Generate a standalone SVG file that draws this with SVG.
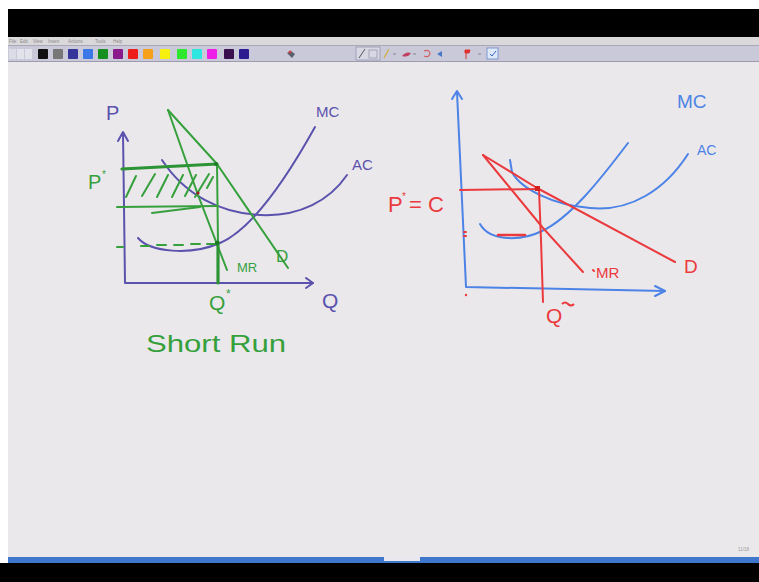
<svg xmlns="http://www.w3.org/2000/svg" width="759" height="582" viewBox="0 0 759 582">
<style>
.pen{fill:none;stroke-linecap:round;stroke-linejoin:round}
.pu{stroke:#5a52ad;stroke-width:2}
.gr{stroke:#35a03c;stroke-width:2}
.grk{stroke:#2c9434;stroke-width:3.2}
.rd{stroke:#ea3a3e;stroke-width:2}
.bl{stroke:#4c83e6;stroke-width:2}
.lbl{font-family:"Liberation Sans",Arial,sans-serif}
.sw{stroke:#9a9aaa;stroke-width:0.5}
</style>
<rect x="0" y="0" width="759" height="582" fill="#ffffff"/>
<rect x="8" y="9" width="751" height="28" fill="#000000"/>
<rect x="8" y="37" width="751" height="8" fill="#dad8da"/>
<rect x="8" y="45" width="751" height="17" fill="#c9c9da"/>
<line x1="8" y1="45.5" x2="759" y2="45.5" stroke="#a8a8b8" stroke-width="1"/>
<line x1="8" y1="61.5" x2="759" y2="61.5" stroke="#9c9cae" stroke-width="1"/>
<rect x="8" y="62" width="751" height="495" fill="#ebe8eb"/>
<rect x="8" y="557" width="751" height="6" fill="#3f77cc"/>
<rect x="384" y="556" width="36" height="5" fill="#e8e8ee"/>
<rect x="0" y="563" width="759" height="19" fill="#000000"/>
<text x="738" y="551" class="lbl" font-size="4.5" fill="#9a9a9a">11/18</text>
<g id="menu" class="lbl" font-size="4.5" fill="#8a8a8a">
<text x="9" y="43">File</text><text x="20" y="43">Edit</text><text x="33" y="43">View</text><text x="48" y="43">Insert</text><text x="68" y="43">Actions</text><text x="95" y="43">Tools</text><text x="113" y="43">Help</text>
</g>
<g id="palette">
<rect x="9" y="49" width="7" height="10" fill="#dcdce6"/>
<rect x="17" y="49" width="7" height="10" fill="#e2e2ea"/>
<rect x="25" y="49" width="7" height="10" fill="#e2e2ea"/>
<rect x="38" y="49" width="10" height="10" rx="1" fill="#111111"/>
<rect x="53" y="49" width="10" height="10" rx="1" fill="#777777"/>
<rect x="68" y="49" width="10" height="10" rx="1" fill="#34349a"/>
<rect x="83" y="49" width="10" height="10" rx="1" fill="#3a78e8"/>
<rect x="98" y="49" width="10" height="10" rx="1" fill="#15901e"/>
<rect x="113" y="49" width="10" height="10" rx="1" fill="#8a1a8c"/>
<rect x="128" y="49" width="10" height="10" rx="1" fill="#ee1c1c"/>
<rect x="143" y="49" width="10" height="10" rx="1" fill="#f5a018"/>
<rect x="160" y="49" width="10" height="10" rx="1" fill="#f5f010"/>
<rect x="177" y="49" width="10" height="10" rx="1" fill="#2ee82e"/>
<rect x="192" y="49" width="10" height="10" rx="1" fill="#2ee6e0"/>
<rect x="207" y="49" width="10" height="10" rx="1" fill="#ee1ee8"/>
<rect x="224" y="49" width="10" height="10" rx="1" fill="#3a1050"/>
<rect x="239" y="49" width="10" height="10" rx="1" fill="#2c1a90"/>
<path d="M287,53 l4,-2 l4,3 l-3,4 z" fill="#556070"/>
<circle cx="290" cy="52" r="1.5" fill="#d04040"/>
</g>
<g id="tools">
<rect x="356" y="47" width="24" height="13" fill="#d8d8e4" stroke="#8e8ea6" stroke-width="0.7"/>
<line x1="359" y1="58" x2="365" y2="49" stroke="#555" stroke-width="1"/>
<rect x="369" y="50" width="8" height="8" fill="none" stroke="#8e8ea6" stroke-width="0.7"/>
<line x1="384" y1="58" x2="389" y2="49" stroke="#d0b040" stroke-width="1.3"/>
<line x1="393" y1="54" x2="396" y2="54" stroke="#777" stroke-width="0.8"/>
<path d="M402,56 q4,-5 9,-3 q-3,5 -9,3z" fill="#c04060"/>
<line x1="413" y1="54" x2="416" y2="54" stroke="#777" stroke-width="0.8"/>
<path d="M424,51 q6,-2 6,3 q-2,4 -6,2" fill="none" stroke="#d06060" stroke-width="1.2"/>
<path d="M437,54 l5,-3 v6z" fill="#4a78c8"/>
<path d="M465,50 h5 l-1,3 h-4 z M466,53 v6" fill="#e03030" stroke="#e03030" stroke-width="1"/>
<line x1="478" y1="54" x2="481" y2="54" stroke="#777" stroke-width="0.8"/>
<rect x="487" y="48" width="11" height="11" fill="#dde8f8" stroke="#6a8ac8" stroke-width="0.8"/>
<path d="M490,54 l2,2 l4,-5" fill="none" stroke="#3a66b8" stroke-width="1"/>
</g>

<g id="left-graph">
<g id="left-axes" class="pen pu">
<path d="M123,133 L124,206 L125,283 L313,283"/>
<path d="M118,141 L123,132 L128,141"/>
<path d="M306,278 L313,283 L306,288"/>
</g>
<g id="left-curves" class="pen pu">
<path d="M138,238 C150,252 190,256 220,243 C255,228 290,172 315,127"/>
<path d="M162,160 C185,195 220,213 260,215 C300,217 330,200 347,175"/>
</g>
<g id="left-lines" class="pen">
<path class="gr" d="M168,110 L217,164 L288,268"/>
<path class="gr" d="M168,110 L198,195 L227,270"/>
<path class="grk" d="M122,169 L217,164"/>
<path class="gr" d="M117,207 L217,206" stroke-width="2.6"/>
<path class="gr" d="M152,213 L200,207"/>
<path class="gr" d="M217,164 L218,243"/>
<path class="grk" d="M218,242 L218,283"/>
<path class="gr" d="M117,247 L123,247 M141,246 L149,246 M157,245 L166,245 M174,245 L183,245 M191,244 L200,244 M207,244 L216,244"/>
<path class="gr" d="M126,197 L136,176 M142,196 L155,174 M157,197 L168,175 M172,197 L183,175 M185,196 L196,175 M195,197 L209,174 M207,188 L213,177"/>
<circle cx="217" cy="243" r="2.2" fill="#1f7a28"/>
<circle cx="216" cy="164" r="2" fill="#1f7a28"/>
<circle cx="198" cy="193" r="1.6" fill="#a02020"/>
</g>
<g id="left-labels" class="lbl">
<text x="106" y="120" font-size="20" fill="#5a52ad">P</text>
<text x="316" y="117" font-size="15" fill="#5a52ad">MC</text>
<text x="352" y="170" font-size="15" fill="#5a52ad">AC</text>
<text x="322" y="308" font-size="21" fill="#5a52ad">Q</text>
<text x="88" y="189" font-size="20" fill="#35a03c">P</text>
<text x="102" y="178" font-size="10" fill="#35a03c">*</text>
<text x="237" y="272" font-size="13" fill="#35a03c">MR</text>
<text x="276" y="262" font-size="17" fill="#35a03c">D</text>
<text x="209" y="310" font-size="21" fill="#35a03c">Q</text>
<text x="226" y="298" font-size="12" fill="#35a03c">*</text>
<text x="146" y="352" font-size="24" fill="#35a03c" textLength="140" lengthAdjust="spacingAndGlyphs">Short Run</text>
</g>
</g>

<g id="right-graph">
<g id="right-axes" class="pen bl">
<path d="M457,92 L462,200 L466,287 L665,291"/>
<path d="M452,99 L457,91 L462,99"/>
<path d="M655,286 L665,291 L655,296"/>
</g>
<g id="right-curves" class="pen bl">
<path d="M480,224 C490,242 522,241 542,231 C570,218 600,180 628,143"/>
<path d="M510,160 L512,172 C520,188 552,205 590,208 C630,212 665,190 688,154"/>
</g>
<g id="right-lines" class="pen rd">
<path d="M483,155 L537,188 L675,262"/>
<path d="M483,155 L543,228 L583,272"/>
<path d="M460,190 L538,189"/>
<path d="M539,190 L541,240 L543,302"/>
<path d="M498,235 L525,235" stroke-width="2.6"/>
<path d="M464,232 L466,232 M464,236 L466,236"/>
<path d="M593,270 L594,271"/>
<rect x="535" y="186" width="5" height="5" fill="#d42020" stroke="none"/>
<circle cx="466" cy="295" r="1.2" fill="#ea3a3e" stroke="none"/>
</g>
<g id="right-labels" class="lbl">
<text x="677" y="108" font-size="19" fill="#4c83e6">MC</text>
<text x="697" y="155" font-size="14" fill="#4c83e6">AC</text>
<text x="388" y="212" font-size="22" fill="#ea3a3e">P</text>
<text x="402" y="200" font-size="10" fill="#ea3a3e">*</text>
<text x="409" y="212" font-size="22" fill="#ea3a3e">= C</text>
<text x="596" y="278" font-size="15" fill="#ea3a3e">MR</text>
<text x="684" y="273" font-size="19" fill="#ea3a3e">D</text>
<text x="546" y="323" font-size="21" fill="#ea3a3e">Q</text>
<path d="M562,304 q3,-3 6,0 q3,3 6,0" fill="none" stroke="#ea3a3e" stroke-width="2"/>
</g>
</g>
</svg>
